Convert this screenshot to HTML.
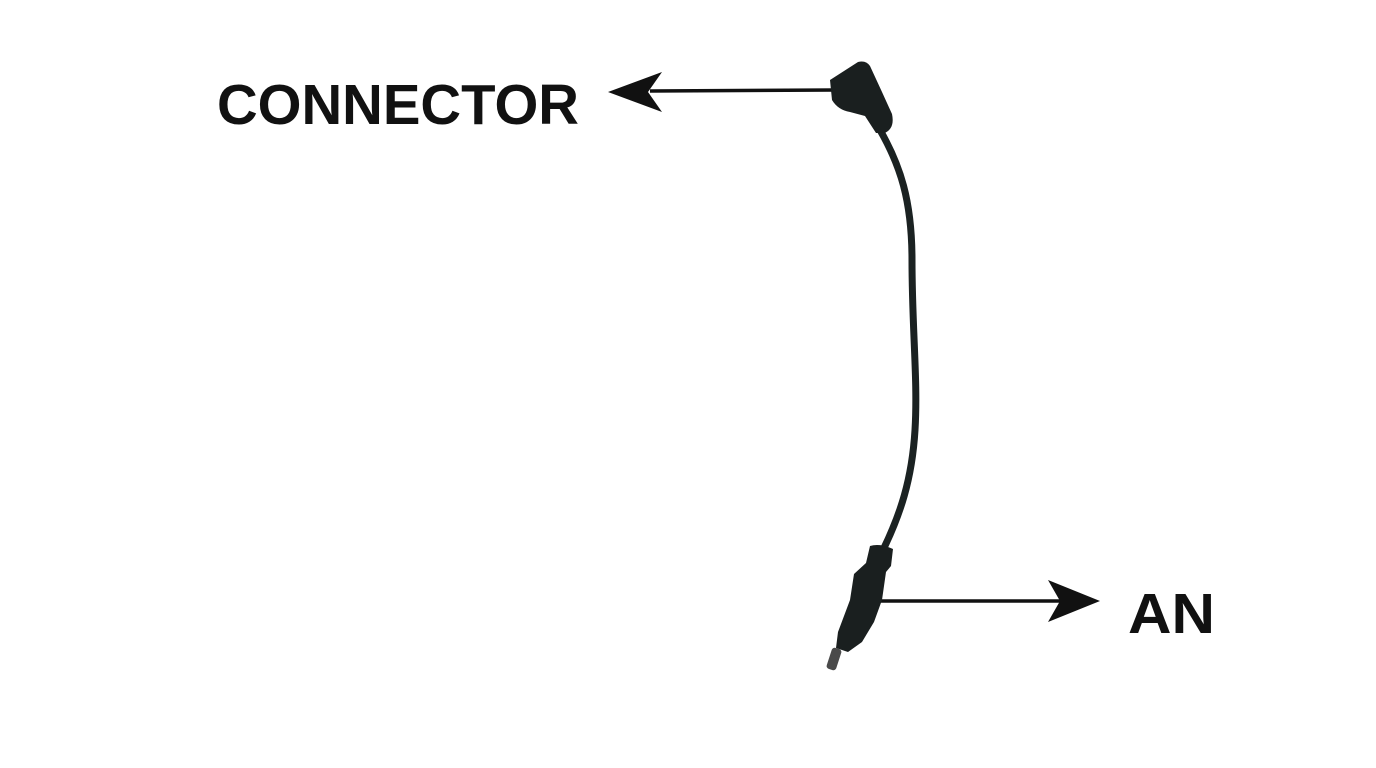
<!DOCTYPE html>
<html><head><style>
html,body{margin:0;padding:0;background:#fff;width:1376px;height:768px;overflow:hidden}
</style></head><body>
<svg width="1376" height="768" xmlns="http://www.w3.org/2000/svg">
<rect width="1376" height="768" fill="#fff"/>
<text x="217" y="124" font-family="Liberation Sans, sans-serif" font-weight="bold" font-size="57" fill="#111" textLength="362" lengthAdjust="spacingAndGlyphs">CONNECTOR</text>
<text x="1128" y="633" font-family="Liberation Sans, sans-serif" font-weight="bold" font-size="57" fill="#111" textLength="87" lengthAdjust="spacingAndGlyphs">AN</text>
<line x1="650" y1="91" x2="835" y2="90" stroke="#111" stroke-width="3.5"/>
<polygon points="608,92 662,72 648,92 662,112" fill="#111"/>
<line x1="875" y1="601" x2="1060" y2="601" stroke="#111" stroke-width="3.5"/>
<polygon points="1100,601 1048,580 1060,601 1048,622" fill="#111"/>
<path d="M880,130 C900,165 912,200 912,260 C912,330 918,380 915,430 C912,480 900,515 883,550" fill="none" stroke="#1b2222" stroke-width="7" stroke-linecap="round"/>
<g fill="#1a1f1f">
<path d="M830,80 L858,62 Q866,60 870,66 L882,92 L892,114 Q895,128 885,133 L876,133 L865,116 L850,112 Q838,110 832,100 Z"/>
</g>
<g fill="#1a1f1f">
<path d="M870,546 Q880,543 893,549 L891,566 L886,572 L882,600 L874,622 L862,642 L848,652 L836,648 L838,632 L850,600 L854,574 L866,563 Z"/>
</g>
<rect x="829" y="648" width="10" height="22" rx="3" fill="#4a4a4a" transform="rotate(18 834 659)"/>
</svg>
</body></html>
